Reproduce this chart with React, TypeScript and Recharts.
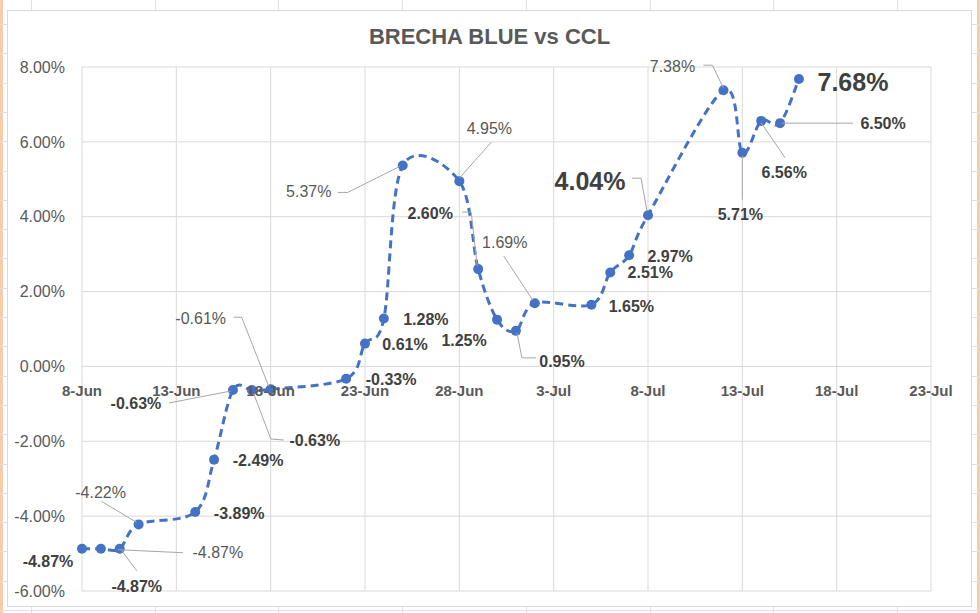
import { LineChart, Line, XAxis, YAxis, CartesianGrid, LabelList } from 'recharts';

// daily gap between "blue" and CCL dollar, in %
const dates = [
  '8-Jun', '9-Jun', '10-Jun', '11-Jun', '14-Jun', '15-Jun', '16-Jun', '17-Jun', '18-Jun',
  '22-Jun', '23-Jun', '24-Jun', '25-Jun', '28-Jun', '29-Jun', '30-Jun', '1-Jul', '2-Jul',
  '5-Jul', '6-Jul', '7-Jul', '8-Jul', '12-Jul', '13-Jul', '14-Jul', '15-Jul', '16-Jul',
];
const gap = [
  -4.87, -4.87, -4.87, -4.22, -3.89, -2.49, -0.63, -0.63, -0.61,
  -0.33, 0.61, 1.28, 5.37, 4.95, 2.6, 1.25, 0.95, 1.69,
  1.65, 2.51, 2.97, 4.04, 7.38, 5.71, 6.56, 6.5, 7.68,
];
const xTickLabels = ['8-Jun', '13-Jun', '18-Jun', '23-Jun', '28-Jun', '3-Jul', '8-Jul', '13-Jul', '18-Jul', '23-Jul'];
const yTicks = [-6, -4, -2, 0, 2, 4, 6, 8];

const MONTH_OFFSET: Record<string, number> = { Jun: 0, Jul: 30 };
const dayIndex = (s: string) => {
  const [d, m] = s.split('-');
  return Number(d) + MONTH_OFFSET[m] - 8;
};

const data = dates.map((d, i) => ({ day: dayIndex(d), gap: gap[i] }));
const xTicks = xTickLabels.map(dayIndex);

// layout
const W = 980;
const H = 613;
const PLOT_LEFT = 82;
const PLOT_RIGHT = 931;
const PLOT_TOP = 67;
const PLOT_BOTTOM = 591;
const Y_AXIS_W = 70;
const X_AXIS_H = 20;
const ZERO_Y = PLOT_TOP + (8 / 14) * (PLOT_BOTTOM - PLOT_TOP);

const FONT = '"Liberation Sans", Arial, sans-serif';
const BLUE = '#4472C4';

// where each data label sits relative to its point (Excel moved a lot of them by hand)
type LabelPos = { dx: number; dy: number; bold?: boolean; big?: boolean; leader?: number[][] };
const labelLayout: LabelPos[] = [
  { dx: -34, dy: 13, bold: true },
  { dx: 117, dy: 4, leader: [[17, 1], [82, 4]] },
  { dx: 17, dy: 38, bold: true, leader: [[2, 2], [17, 22]] },
  { dx: -38, dy: -32, leader: [[-37, -23], [-2, -2]] },
  { dx: 44, dy: 1, bold: true },
  { dx: 44, dy: 1, bold: true },
  { dx: -97, dy: 13, bold: true, leader: [[-64, 13], [-2, 1]] },
  { dx: 63, dy: 50, bold: true, leader: [[2, 4], [19, 49], [32, 50]] },
  { dx: -70, dy: -71, leader: [[-37, -72], [-29, -72], [-2, -3]] },
  { dx: 45, dy: 1, bold: true },
  { dx: 40, dy: 1, bold: true },
  { dx: 42, dy: 1, bold: true },
  { dx: -94, dy: 26, leader: [[-65, 27], [-55, 27], [-3, 1]] },
  { dx: 30, dy: -53, leader: [[32, -39], [0, -3]] },
  { dx: -48, dy: -56, bold: true, leader: [[-16, -57], [-7, -57], [-1, -3]] },
  { dx: -33, dy: 21, bold: true },
  { dx: 46, dy: 31, bold: true, leader: [[1, 2], [6, 27], [20, 27]] },
  { dx: -30, dy: -61, leader: [[-31, -47], [-2, -3]] },
  { dx: 40, dy: 2, bold: true },
  { dx: 40, dy: 0, bold: true },
  { dx: 41, dy: 1, bold: true },
  { dx: -58, dy: -34, bold: true, big: true, leader: [[-16, -37], [-7, -37], [-1, -4]] },
  { dx: -51, dy: -24, leader: [[-20, -25], [-11, -25], [0, -2]] },
  { dx: -2, dy: 62, bold: true, leader: [[0, 3], [0, 47]] },
  { dx: 23, dy: 52, bold: true, leader: [[0, 2], [24, 37]] },
  { dx: 103, dy: 0, bold: true, leader: [[2, 0], [73, 0]] },
  { dx: 54, dy: 3, bold: true, big: true },
];

// Excel-like smoothed line (Catmull-Rom segments as cubic beziers)
function excelCurve(context: any) {
  let pts: number[][] = [];
  return {
    areaStart() {},
    areaEnd() {},
    lineStart() {
      pts = [];
    },
    point(x: number, y: number) {
      pts.push([+x, +y]);
    },
    lineEnd() {
      const n = pts.length;
      if (!n) return;
      context.moveTo(pts[0][0], pts[0][1]);
      for (let i = 0; i < n - 1; i++) {
        const p0 = pts[Math.max(i - 1, 0)];
        const p1 = pts[i];
        const p2 = pts[i + 1];
        const p3 = pts[Math.min(i + 2, n - 1)];
        context.bezierCurveTo(
          p1[0] + (p2[0] - p0[0]) / 6,
          p1[1] + (p2[1] - p0[1]) / 6,
          p2[0] - (p3[0] - p1[0]) / 6,
          p2[1] - (p3[1] - p1[1]) / 6,
          p2[0],
          p2[1]
        );
      }
    },
  };
}

function renderLabel(props: any) {
  const { x, y, value, index } = props;
  const pos = labelLayout[index];
  if (!pos || x == null || y == null) return null;
  return (
    <g key={`lbl-${index}`}>
      {pos.leader && (
        <polyline
          points={pos.leader.map(([lx, ly]) => `${x + lx},${y + ly}`).join(' ')}
          fill="none"
          stroke="#A6A6A6"
          strokeWidth={1}
        />
      )}
      <text
        x={x + pos.dx}
        y={y + pos.dy}
        textAnchor="middle"
        dominantBaseline="central"
        fontFamily={FONT}
        fontSize={pos.big ? 25 : 16}
        fontWeight={pos.bold ? 'bold' : 'normal'}
        fill={pos.bold ? '#404040' : '#595959'}
      >
        {`${Number(value).toFixed(2)}%`}
      </text>
    </g>
  );
}

// x labels sit under the 0% line, like the Excel axis crossing
function XTick(props: any) {
  const { x, payload } = props;
  const label = xTickLabels[xTicks.indexOf(payload.value)];
  return (
    <text
      x={x}
      y={ZERO_Y + 24}
      textAnchor="middle"
      dominantBaseline="central"
      fontFamily={FONT}
      fontSize={15}
      fontWeight="bold"
      fill="#595959"
    >
      {label}
    </text>
  );
}

const colLines = [31, 155, 278, 402, 526, 650, 773, 897];
const rowLines = Array.from({ length: 21 }, (_, i) => 24 + i * 29.3);

export default function App() {
  return (
    <div style={{ position: 'absolute', left: 0, top: 0, width: W, height: H, background: '#fff', overflow: 'hidden' }}>
      {/* spreadsheet around the chart */}
      <div style={{ position: 'absolute', left: 0, top: 0, width: 3, height: H, background: '#F8CBAD' }} />
      <div style={{ position: 'absolute', left: 977, top: 0, width: 3, height: H, background: '#F8CBAD' }} />
      {colLines.map((cx) => (
        <div key={`c${cx}`} style={{ position: 'absolute', left: cx, top: 0, width: 1, height: H, background: '#E1E1E1' }} />
      ))}
      {rowLines.map((ry) => (
        <div key={`r${ry}`} style={{ position: 'absolute', left: 0, top: ry, width: W, height: 1, background: '#E1E1E1' }} />
      ))}
      {/* chart frame */}
      <div
        style={{
          position: 'absolute',
          left: 7,
          top: 10,
          width: 963,
          height: 595,
          background: '#fff',
          border: '1px solid #D9D9D9',
        }}
      />
      <div
        style={{
          position: 'absolute',
          left: 7,
          top: 24,
          width: 965,
          textAlign: 'center',
          fontFamily: FONT,
          fontSize: 22,
          fontWeight: 'bold',
          color: '#595959',
        }}
      >
        BRECHA BLUE vs CCL
      </div>
      <div style={{ position: 'absolute', left: 0, top: 0 }}>
        <LineChart
          width={W}
          height={H}
          data={data}
          margin={{
            top: PLOT_TOP,
            right: W - PLOT_RIGHT,
            bottom: H - PLOT_BOTTOM - X_AXIS_H,
            left: PLOT_LEFT - Y_AXIS_W,
          }}
        >
          <CartesianGrid stroke="#D9D9D9" strokeWidth={1} />
          <XAxis
            dataKey="day"
            type="number"
            domain={[0, 45]}
            ticks={xTicks}
            interval={0}
            height={X_AXIS_H}
            axisLine={false}
            tickLine={false}
            tick={XTick}
          />
          <YAxis
            type="number"
            domain={[-6, 8]}
            ticks={yTicks}
            interval={0}
            width={Y_AXIS_W}
            axisLine={false}
            tickLine={false}
            tickSize={0}
            tickMargin={17}
            tick={{ fill: '#595959', fontSize: 16, fontFamily: FONT }}
            tickFormatter={(v: number) => `${v.toFixed(2)}%`}
          />
          <Line
            dataKey="gap"
            type={excelCurve as any}
            stroke={BLUE}
            strokeWidth={3}
            strokeDasharray="8 5"
            dot={{ r: 5, fill: BLUE, stroke: BLUE, strokeWidth: 0, strokeDasharray: '' }}
            activeDot={false}
            isAnimationActive={false}
          >
            <LabelList dataKey="gap" content={renderLabel} />
          </Line>
        </LineChart>
      </div>
    </div>
  );
}
